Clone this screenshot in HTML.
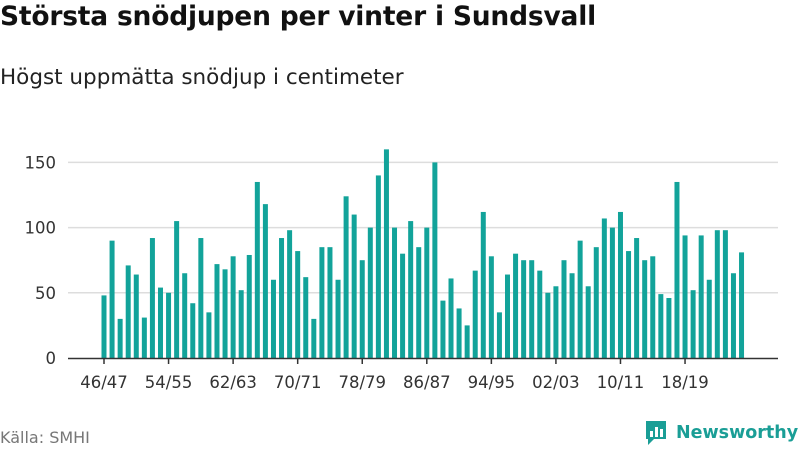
<!DOCTYPE html>
<html><head><meta charset="utf-8"><style>
body{margin:0;width:800px;height:450px;background:#fff;font-family:"Liberation Sans","DejaVu Sans",sans-serif;overflow:hidden;position:relative}
.t{position:absolute;left:0;top:1px;font-size:26.5px;font-weight:bold;color:#111;font-family:"DejaVu Sans","Liberation Sans",sans-serif;letter-spacing:-0.2px}
.s{position:absolute;left:0;top:65px;font-size:21.5px;color:#222;font-family:"DejaVu Sans","Liberation Sans",sans-serif}
.f{position:absolute;left:0;top:428px;font-size:16px;color:#777;font-family:"DejaVu Sans","Liberation Sans",sans-serif}
.logo{position:absolute;left:644px;top:419px;display:flex;align-items:center;gap:8px;color:#1a9e96;font-weight:bold;font-size:17.5px;font-family:"DejaVu Sans","Liberation Sans",sans-serif;white-space:nowrap}
</style></head><body>
<div class="t">Största snödjupen per vinter i Sundsvall</div>
<div class="s">Högst uppmätta snödjup i centimeter</div>
<svg id="c" width="800" height="450" style="position:absolute;left:0;top:0"></svg>
<div class="f">Källa: SMHI</div>
<div class="logo">
<svg width="24" height="28" viewBox="0 0 24 28"><path d="M2 2h20v18H10l-6 6v-6H2z" fill="#1a9e96"/><rect x="6" y="12" width="3" height="6" fill="#fff"/><rect x="11" y="8" width="3" height="10" fill="#fff"/><rect x="16" y="10" width="3" height="8" fill="#fff"/></svg>
<span>Newsworthy</span></div>
<script>
const startYear = 46;
const values = [48,90,30,71,64,31,92,54,50,105,65,42,92,35,72,68,78,52,79,135,118,60,92,98,82,62,30,85,85,60,124,110,75,100,140,160,100,80,105,85,100,150,44,61,38,25,67,112,78,35,64,80,75,75,67,50,55,75,65,90,55,85,107,100,112,82,92,75,78,49,46,135,94,52,94,60,98,98,65,81];
const yTicks = [0,50,100,150];
const labelEvery = 8;
const svg=document.getElementById('c');const NS='http://www.w3.org/2000/svg';
const y=v=>358-v*1.304;
const x=i=>104+i*8.07;
function mk(t,a){const e=document.createElementNS(NS,t);for(const k in a)e.setAttribute(k,a[k]);svg.appendChild(e);return e;}
yTicks.forEach(v=>{
 if(v>0){const g=mk('line',{x1:68,x2:778,y1:y(v),y2:y(v),stroke:'#ddd','stroke-width':1.5});
 
 }
 const t=mk('text',{x:56,y:y(v)+6,'text-anchor':'end','font-size':16.5,fill:'#333','font-family':'DejaVu Sans, Liberation Sans, sans-serif'});t.textContent=v;
 
 
});
values.forEach((v,i)=>{
 const r=mk('rect',{x:x(i)-2.5,y:y(v),width:5,height:358-y(v),fill:'#12a39a'});
 
 
});
const ax=mk('line',{x1:68,x2:778,y1:358.5,y2:358.5,stroke:'#333','stroke-width':1.5});


const pad=n=>String(n%100).padStart(2,'0');
for(let i=0;i<values.length;i+=labelEvery){
 const tk=mk('line',{x1:x(i),x2:x(i),y1:358,y2:364,stroke:'#333','stroke-width':1.5});
 
 
 const t=mk('text',{x:x(i),y:388,'text-anchor':'middle','font-size':16.5,fill:'#333','font-family':'DejaVu Sans, Liberation Sans, sans-serif'});
 t.textContent=pad(startYear+i)+'/'+pad(startYear+i+1);
 
 
}
</script>
</body></html>
